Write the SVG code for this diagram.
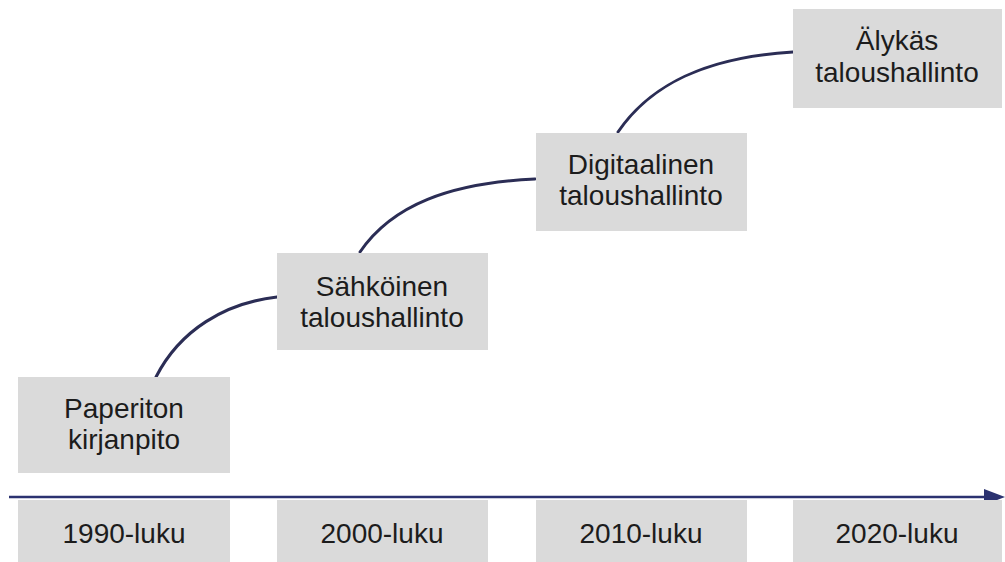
<svg xmlns="http://www.w3.org/2000/svg" width="1005" height="562" viewBox="0 0 1005 562">
<style>
.box{fill:#dadada}
.t{font-family:"Liberation Sans",Arial,sans-serif;font-size:28px;fill:#1c1c1c;text-anchor:middle}
.c{fill:none;stroke:#2b2d55;stroke-width:3;stroke-linecap:round}
</style>
<rect width="1005" height="562" fill="#ffffff"/>
<g id="connectors">
<path class="c" d="M156,377 C180,330 225,303 277,297"/>
<path class="c" d="M360,252 C392,205 450,183 535,179"/>
<path class="c" d="M618,132 C650,85 705,57 793,52"/>
<line x1="9" y1="497" x2="988" y2="497" stroke="#2b3270" stroke-width="2.5"/>
<polygon points="984,489 1005,497 984,505" fill="#2b3270"/>
</g>
<g id="n1"><rect class="box" x="18" y="377" width="212" height="96"/><text class="t" x="124" y="418">Paperiton</text><text class="t" x="124" y="449">kirjanpito</text></g>
<g id="n2"><rect class="box" x="277" y="253" width="211" height="97"/><text class="t" x="382" y="296">Sähköinen</text><text class="t" x="382" y="327">taloushallinto</text></g>
<g id="n3"><rect class="box" x="536" y="133" width="211" height="98"/><text class="t" x="641" y="174">Digitaalinen</text><text class="t" x="641" y="205">taloushallinto</text></g>
<g id="n4"><rect class="box" x="793" y="9" width="209" height="99"/><text class="t" x="897" y="50">Älykäs</text><text class="t" x="897" y="82">taloushallinto</text></g>
<g id="d1"><rect class="box" x="18" y="500" width="212" height="62"/><text class="t" x="124" y="543">1990-luku</text></g>
<g id="d2"><rect class="box" x="277" y="500" width="211" height="62"/><text class="t" x="382" y="543">2000-luku</text></g>
<g id="d3"><rect class="box" x="536" y="500" width="211" height="62"/><text class="t" x="641" y="543">2010-luku</text></g>
<g id="d4"><rect class="box" x="793" y="500" width="209" height="62"/><text class="t" x="897" y="543">2020-luku</text></g>
</svg>
